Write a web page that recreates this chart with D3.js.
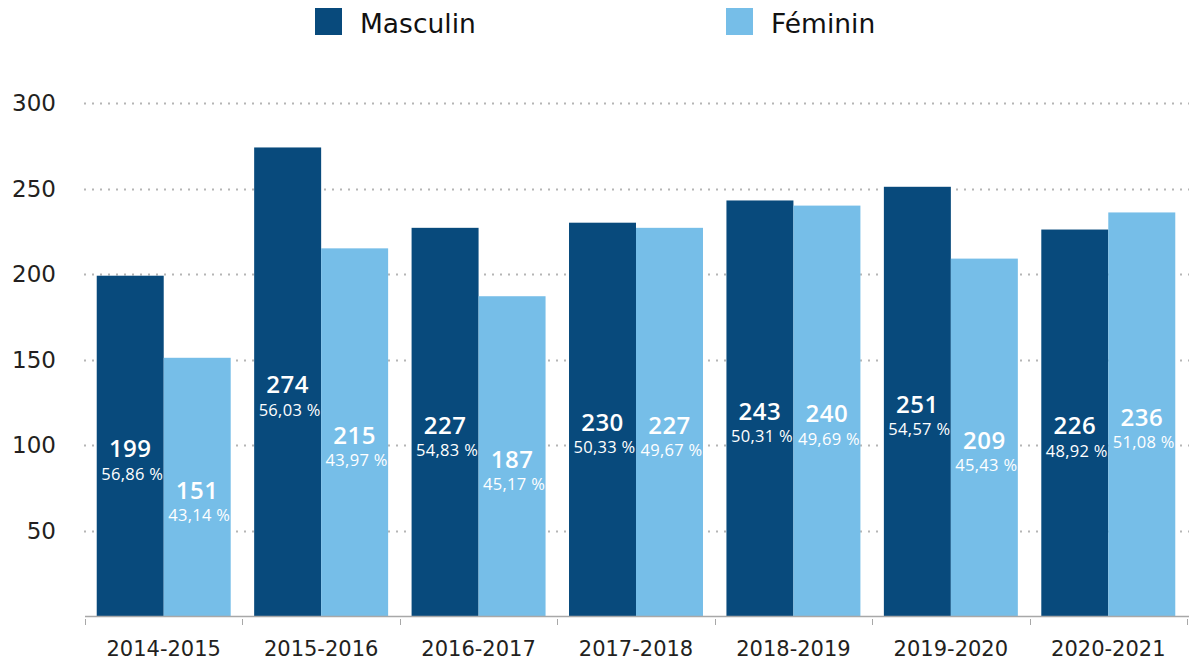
<!DOCTYPE html>
<html>
<head>
<meta charset="utf-8">
<script src="https://cdn.jsdelivr.net/npm/d3@7"></script>
<style>
  html, body { margin: 0; padding: 0; background: #fff; }
  svg { display: block; font-family: "DejaVu Sans", "Open Sans", sans-serif; }
  .inbar { font-family: "Open Sans", "Lato", sans-serif; }
</style>
</head>
<body>
<svg id="chart" width="1189" height="661"></svg>
<script>
const categories = ["2014-2015", "2015-2016", "2016-2017", "2017-2018", "2018-2019", "2019-2020", "2020-2021"];
const seriesNames = ["Masculin", "Féminin"];
const masculin = [199, 274, 227, 230, 243, 251, 226];
const feminin = [151, 215, 187, 227, 240, 209, 236];
const masculinPct = ["56,86 %", "56,03 %", "54,83 %", "50,33 %", "50,31 %", "54,57 %", "48,92 %"];
const femininPct = ["43,14 %", "43,97 %", "45,17 %", "49,67 %", "49,69 %", "45,43 %", "51,08 %"];
const yTicks = [50, 100, 150, 200, 250, 300];
const colors = ["#084a7c", "#76bee8"];

const svg = d3.select("#chart");
const mLeft = 85, mRight = 1187, mTop = 103, mBottom = 616;

const y = d3.scaleLinear().domain([0, 300]).range([mBottom, mTop]);
const pad = 0.149;
const x0 = d3.scaleBand().domain(categories).range([mLeft, mRight]).paddingInner(pad).paddingOuter(pad / 2);
const x1 = d3.scaleBand().domain(seriesNames).range([0, x0.bandwidth()]);

// gridlines
svg.append("g").selectAll("line").data(yTicks).join("line")
  .attr("x1", mLeft - 1).attr("x2", 1189)
  .attr("y1", d => Math.round(y(d)) + 0.5).attr("y2", d => Math.round(y(d)) + 0.5)
  .attr("stroke", "#b5b5b5").attr("stroke-width", 2).attr("stroke-dasharray", "2,6");

// y labels
svg.append("g").selectAll("text").data(yTicks).join("text")
  .attr("x", 56).attr("y", d => y(d)).attr("dy", "0.36em")
  .attr("text-anchor", "end").attr("font-size", 23).attr("fill", "#231f20")
  .text(d => d);

const data = categories.map((c, i) => ({
  cat: c,
  vals: [
    { s: seriesNames[0], v: masculin[i], p: masculinPct[i], c: colors[0] },
    { s: seriesNames[1], v: feminin[i], p: femininPct[i], c: colors[1] }
  ]
}));

const groups = svg.append("g").selectAll("g").data(data).join("g")
  .attr("transform", d => `translate(${x0(d.cat)},0)`);

groups.selectAll("rect").data(d => d.vals).join("rect")
  .attr("x", d => x1(d.s)).attr("width", x1.bandwidth())
  .attr("y", d => y(d.v)).attr("height", d => y(0) - y(d.v))
  .attr("fill", d => d.c);

groups.selectAll("text.val").data(d => d.vals).join("text")
  .attr("class", "val inbar")
  .attr("x", d => x1(d.s) + x1.bandwidth() / 2)
  .attr("y", d => (y(d.v) + y(0)) / 2 + 3)
  .attr("dy", "0.36em")
  .attr("text-anchor", "middle").attr("fill", "#fff")
  .attr("font-size", 24).attr("font-weight", 600).attr("letter-spacing", 0.5)
  .text(d => d.v);

groups.selectAll("text.pct").data(d => d.vals).join("text")
  .attr("class", "pct inbar")
  .attr("x", d => x1(d.s) + x1.bandwidth() / 2 + 2)
  .attr("y", d => (y(d.v) + y(0)) / 2 + 28)
  .attr("dy", "0.36em")
  .attr("text-anchor", "middle").attr("fill", "#fff")
  .attr("font-size", 16.5).attr("letter-spacing", 0.3)
  .text(d => d.p);

// x axis
const step = x0.step();
const tickPos = categories.map(c => x0(c) - step * pad / 2).concat([mRight]);
svg.append("line").attr("x1", mLeft).attr("x2", mRight + 2)
  .attr("y1", mBottom + 0.5).attr("y2", mBottom + 0.5)
  .attr("stroke", "#a8a8a8").attr("stroke-width", 1.5);
svg.append("g").selectAll("line").data(tickPos).join("line")
  .attr("x1", d => Math.round(d) + 0.5).attr("x2", d => Math.round(d) + 0.5)
  .attr("y1", mBottom + 3).attr("y2", mBottom + 9)
  .attr("stroke", "#a8a8a8").attr("stroke-width", 1);

svg.append("g").selectAll("text").data(categories).join("text")
  .attr("x", d => x0(d) + x0.bandwidth() / 2).attr("y", 648).attr("dy", "0.36em")
  .attr("text-anchor", "middle").attr("font-size", 21).attr("fill", "#231f20")
  .text(d => d);

// legend
const legendX = [315, 726];
const lg = svg.append("g").selectAll("g").data(seriesNames).join("g")
  .attr("transform", (d, i) => `translate(${legendX[i]},8)`);
lg.append("rect").attr("width", 27).attr("height", 27).attr("fill", (d, i) => colors[i]);
lg.append("text").attr("x", 45).attr("y", 15).attr("dy", "0.36em")
  .attr("font-size", 26.5).attr("fill", "#111").text(d => d);
</script>
</body>
</html>
